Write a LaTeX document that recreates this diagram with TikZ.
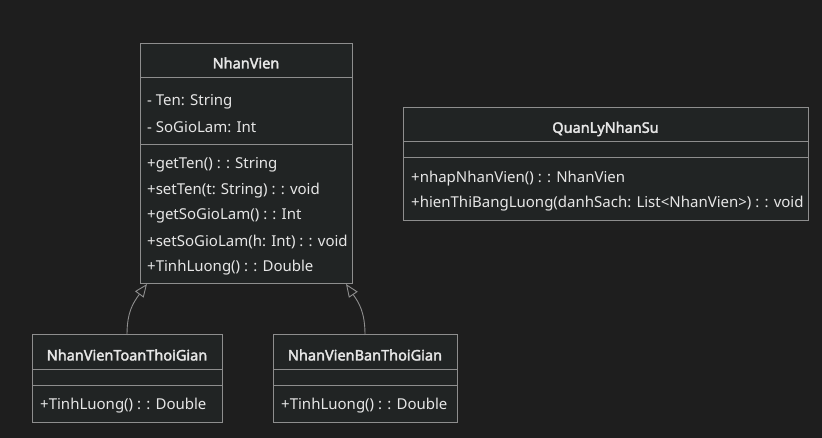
\documentclass[tikz,border=0pt]{standalone}
\usepackage{fontspec}
\setmainfont{Noto Sans}
\newfontfamily\ttlfont{Noto Sans}[FakeBold=2.4]
\usetikzlibrary{arrows.meta}
\definecolor{bgc}{HTML}{1E1E1E}
\definecolor{boxc}{HTML}{212424}
\definecolor{linec}{HTML}{8E8E8E}
\definecolor{txtc}{HTML}{E6E6E6}
\tikzset{
  cls/.style={draw=linec, fill=boxc, line width=1pt, inner sep=0pt, outer sep=0pt, anchor=north west},
  sep/.style={draw=linec, line width=1pt},
  txt/.style={text=txtc, anchor=west, inner sep=0pt, font=\fontsize{15}{17}\selectfont},
  ttl/.style={text=txtc, inner sep=0pt, font=\ttlfont\fontsize{14.5}{17}\selectfont},
  inh/.style={draw=linec, line width=0.9pt, -{Triangle[open, length=13pt, width=10.5pt]}}
}
\begin{document}
\begin{tikzpicture}[x=1pt,y=-1pt]
\useasboundingbox (0,0) rectangle (822,438);
\fill[bgc] (0,0) rectangle (822,438);

% NhanVien
\node[cls, minimum width=212pt, minimum height=240pt] (nv) at (140,44) {};
\draw[sep] ([yshift=-33.5pt]nv.north west) -- ([yshift=-33.5pt]nv.north east);
\draw[sep] ([yshift=-101pt]nv.north west) -- ([yshift=-101pt]nv.north east);
\node[ttl] (nvt) at (246,63) {NhanVien};
\node[txt] (nva1) at (147,101.5) {- Ten: String};
\node[txt] (nva2) at (147,127.5) {- SoGioLam: Int};
\node[txt] (nvm1) at (147,164.5) {+getTen() : : String};
\node[txt] (nvm2) at (147,190.5) {+setTen(t: String) : : void};
\node[txt] (nvm3) at (147,215.5) {+getSoGioLam() : : Int};
\node[txt] (nvm4) at (147,241.5) {+setSoGioLam(h: Int) : : void};
\node[txt] (nvm5) at (147,267.5) {+TinhLuong() : : Double};

% QuanLyNhanSu
\node[cls, minimum width=405pt, minimum height=113pt] (ql) at (403,108) {};
\draw[sep] ([yshift=-34pt]ql.north west) -- ([yshift=-34pt]ql.north east);
\draw[sep] ([yshift=-50pt]ql.north west) -- ([yshift=-50pt]ql.north east);
\node[ttl] (qlt) at (605.5,129) {QuanLyNhanSu};
\node[txt] (qlm1) at (411,178.5) {+nhapNhanVien() : : NhanVien};
\node[txt] (qlm2) at (411,203.5) {+hienThiBangLuong(danhSach: List<NhanVien>) : : void};

% NhanVienToanThoiGian
\node[cls, minimum width=190pt, minimum height=87pt] (tt) at (32,335) {};
\draw[sep] ([yshift=-34pt]tt.north west) -- ([yshift=-34pt]tt.north east);
\draw[sep] ([yshift=-50pt]tt.north west) -- ([yshift=-50pt]tt.north east);
\node[ttl] (ttt) at (127,355) {NhanVienToanThoiGian};
\node[txt] (ttm1) at (40,405.5) {+TinhLuong() : : Double};

% NhanVienBanThoiGian
\node[cls, minimum width=184pt, minimum height=87pt] (bt) at (273,335) {};
\draw[sep] ([yshift=-34pt]bt.north west) -- ([yshift=-34pt]bt.north east);
\draw[sep] ([yshift=-50pt]bt.north west) -- ([yshift=-50pt]bt.north east);
\node[ttl] (btt) at (365,355) {NhanVienBanThoiGian};
\node[txt] (btm1) at (281,405.5) {+TinhLuong() : : Double};

% inheritance
\coordinate (ttTop) at (tt.north -| 127,0);
\coordinate (nvL) at ([xshift=7pt]nv.south west);
\coordinate (btTop) at (bt.north -| 365,0);
\coordinate (nvR) at ([xshift=-6pt]nv.south east);
\draw[inh] (ttTop) .. controls (127,312) and (133,303) .. (nvL);
\draw[inh] (btTop) .. controls (365,312) and (359,303) .. (nvR);
\end{tikzpicture}
\end{document}
